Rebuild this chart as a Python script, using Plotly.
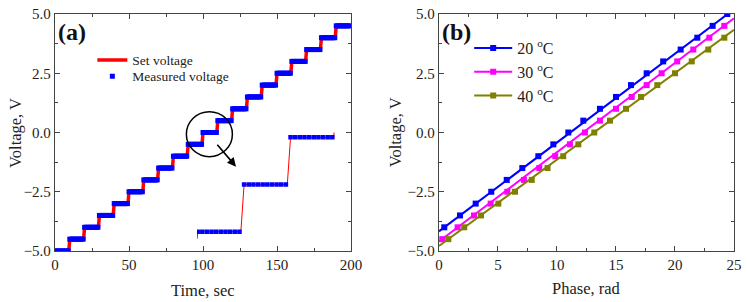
import plotly.graph_objects as go

# ---------------- data: panel (a) ----------------
step_start = [0, 10, 20, 30, 40, 50, 60, 70, 80, 90,
              100, 110, 120, 130, 140, 150, 160, 170, 180, 190]
step_level = [-5.0, -4.5, -4.0, -3.5, -3.0, -2.5, -2.0, -1.5, -1.0, -0.5,
              0.0, 0.5, 1.0, 1.5, 2.0, 2.5, 3.0, 3.5, 4.0, 4.5]
hold_s = 9.3            # set voltage holds, then ramps to next level
sample_offsets = [0, 1, 2, 3, 4, 5, 6, 7, 8, 9]   # measured samples within a step
inset_range_t = [89.85, 120.0]
inset_range_v = [-0.574, 0.55]

# ---------------- data: panel (b) ----------------
v20 = [-4.0, -3.5, -3.0, -2.5, -2.0, -1.5, -1.0, -0.5, 0.0, 0.5,
       1.0, 1.5, 2.0, 2.5, 3.0, 3.5, 4.0, 4.5, 5.0]
p20 = [0.45, 1.78, 3.11, 4.43, 5.74, 7.06, 8.42, 9.69, 10.96, 12.23,
       13.64, 15.0, 16.27, 17.6, 19.0, 20.48, 21.89, 23.19, 24.43]
v30 = [-4.5, -4.0, -3.5, -3.0, -2.5, -2.0, -1.5, -1.0, -0.5, 0.0,
       0.5, 1.0, 1.5, 2.0, 2.5, 3.0, 3.5, 4.0, 4.5]
p30 = [0.28, 1.58, 2.97, 4.38, 5.79, 7.2, 8.5, 9.85, 11.1, 12.37,
       13.64, 15.0, 16.33, 17.6, 18.87, 20.19, 21.55, 22.91, 24.18]
v40 = [-4.5, -4.0, -3.5, -3.0, -2.5, -2.0, -1.5, -1.0, -0.5, 0.0,
       0.5, 1.0, 1.5, 2.0, 2.5, 3.0, 3.5, 4.0]
p40 = [0.79, 2.14, 3.56, 5.03, 6.44, 7.86, 9.2, 10.53, 11.81, 13.16,
       14.49, 15.85, 17.12, 18.5, 20.0, 21.42, 22.82, 24.18]
fit_phase = [0, 25]
fit20 = [-4.17, 5.2]
fit30 = [-4.6, 4.82]
fit40 = [-4.79, 4.33]
series_names = ["20 <sup>o</sup>C", "30 <sup>o</sup>C", "40 <sup>o</sup>C"]
series_colors = ["#0000FF", "#FF00FF", "#808000"]

# ---------------- build step table ----------------
set_t, set_v, meas_t, meas_v = [], [], [], []
for t0, lv in zip(step_start, step_level):
    set_t += [t0, t0 + hold_s]
    set_v += [lv, lv]
    for o in sample_offsets:
        meas_t.append(t0 + o)
        meas_v.append(lv)
set_t.append(200)
set_v.append(step_level[-1])

FONT = "Liberation Serif"
RED, BLUE = "#FF0000", "#0000FF"
TXT = "#222"

fig = go.Figure()
fig.add_trace(go.Scatter(x=set_t, y=set_v, mode="lines", name="Set voltage",
                         line=dict(color=RED, width=3.5), xaxis="x", yaxis="y",
                         legend="legend"))
fig.add_trace(go.Scatter(x=meas_t, y=meas_v, mode="markers", name="Measured voltage",
                         marker=dict(color=BLUE, size=5, symbol="square"),
                         xaxis="x", yaxis="y", legend="legend3"))
# inset
fig.add_trace(go.Scatter(x=set_t, y=set_v, mode="lines", showlegend=False,
                         line=dict(color=RED, width=1), xaxis="x3", yaxis="y3"))
fig.add_trace(go.Scatter(x=meas_t, y=meas_v, mode="markers", showlegend=False,
                         marker=dict(color=BLUE, size=4.5, symbol="square"),
                         xaxis="x3", yaxis="y3"))

# panel (b)
for ph, vv, fit, nm, col in zip([p20, p30, p40], [v20, v30, v40],
                                [fit20, fit30, fit40], series_names, series_colors):
    fig.add_trace(go.Scatter(x=fit_phase, y=fit, mode="lines", showlegend=False,
                             line=dict(color=col, width=2), xaxis="x2", yaxis="y2"))
    fig.add_trace(go.Scatter(x=ph, y=vv, mode="markers", showlegend=False,
                             marker=dict(color=col, size=6, symbol="square"),
                             xaxis="x2", yaxis="y2"))
    fig.add_trace(go.Scatter(x=[None], y=[None], mode="lines+markers", name=nm,
                             line=dict(color=col, width=2),
                             marker=dict(color=col, size=6, symbol="square"),
                             xaxis="x2", yaxis="y2", legend="legend2"))

axis_common = dict(showline=True, linecolor="#444", linewidth=1.3, mirror="ticks",
                   ticks="inside", ticklen=5, tickwidth=1.2, tickcolor="#444",
                   showgrid=False, zeroline=False, automargin=False,
                   tickfont=dict(family=FONT, size=15, color=TXT))
minor_common = dict(ticks="inside", ticklen=3, tickwidth=1.1, tickcolor="#444", showgrid=False)
legend_common = dict(xanchor="left", yanchor="top", bgcolor="rgba(0,0,0,0)",
                     tracegroupgap=0, borderwidth=0)

fig.update_layout(
    template="none",
    width=747, height=302,
    margin=dict(l=55, r=13, t=14, b=51, autoexpand=False),
    paper_bgcolor="white", plot_bgcolor="rgba(0,0,0,0)",
    font=dict(family=FONT, color=TXT),
    xaxis=dict(domain=[0, 0.436], range=[0, 200], tickvals=[0, 50, 100, 150, 200],
               minor=dict(dtick=25, **minor_common), anchor="y", **axis_common),
    yaxis=dict(domain=[0, 1], range=[-5, 5], tick0=-5, dtick=2.5, tickformat=".1f",
               minor=dict(dtick=1.25, **minor_common), anchor="x", **axis_common),
    xaxis2=dict(domain=[0.5655, 1], range=[0, 25], tick0=0, dtick=5,
                minor=dict(dtick=2.5, **minor_common), anchor="y2", **axis_common),
    yaxis2=dict(domain=[0, 1], range=[-5, 5], tick0=-5, dtick=2.5, tickformat=".1f",
                minor=dict(dtick=1.25, **minor_common), anchor="x2", **axis_common),
    xaxis3=dict(domain=[0.2091, 0.4153], range=inset_range_t, visible=False, anchor="y3"),
    yaxis3=dict(domain=[0.0519, 0.4996], range=inset_range_v, visible=False, anchor="x3"),
    legend=dict(x=0.055, y=0.870, font=dict(family=FONT, size=13.5, color=TXT),
                itemwidth=30, **legend_common),
    legend3=dict(x=0.055, y=0.802, font=dict(family=FONT, size=13.5, color=TXT),
                 itemwidth=30, **legend_common),
    legend2=dict(x=0.61, y=0.928, font=dict(family=FONT, size=16, color=TXT),
                 itemwidth=38, **legend_common),
    showlegend=True,
)

# axis titles
title_font = dict(family=FONT, size=16.5, color=TXT)
fig.add_annotation(x=0.218, y=-0.165, xref="paper", yref="paper", text="Time, sec",
                   showarrow=False, xanchor="center", yanchor="middle", font=title_font)
fig.add_annotation(x=0.7828, y=-0.16, xref="paper", yref="paper", text="Phase, rad",
                   showarrow=False, xanchor="center", yanchor="middle", font=title_font)
fig.add_annotation(x=-0.0582, y=0.5, xref="paper", yref="paper", text="Voltage, V",
                   textangle=-90, showarrow=False, xanchor="center", yanchor="middle",
                   font=title_font)
fig.add_annotation(x=0.502, y=0.5, xref="paper", yref="paper", text="Voltage, V",
                   textangle=-90, showarrow=False, xanchor="center", yanchor="middle",
                   font=title_font)

fig.add_shape(type="circle", xref="x", yref="y", xsizemode="pixel", ysizemode="pixel",
              xanchor=104.3, yanchor=-0.07, x0=-23, x1=23, y0=-22.5, y1=22.5,
              line=dict(color="black", width=1.5))
fig.add_annotation(x=122.3, y=-1.44, xref="x", yref="y", ax=-20, ay=-23.4,
                   showarrow=True, arrowhead=2, arrowsize=1.1, arrowwidth=1.6,
                   arrowcolor="black", text="")
fig.add_annotation(x=0.0015, y=0.925, xref="paper", yref="paper", xanchor="left",
                   yanchor="middle", text="<b>(a)</b>", showarrow=False,
                   font=dict(family=FONT, size=24, color="#111"))
fig.add_annotation(x=0.567, y=0.925, xref="paper", yref="paper", xanchor="left",
                   yanchor="middle", text="<b>(b)</b>", showarrow=False,
                   font=dict(family=FONT, size=24, color="#111"))

fig.write_html("out.html")
